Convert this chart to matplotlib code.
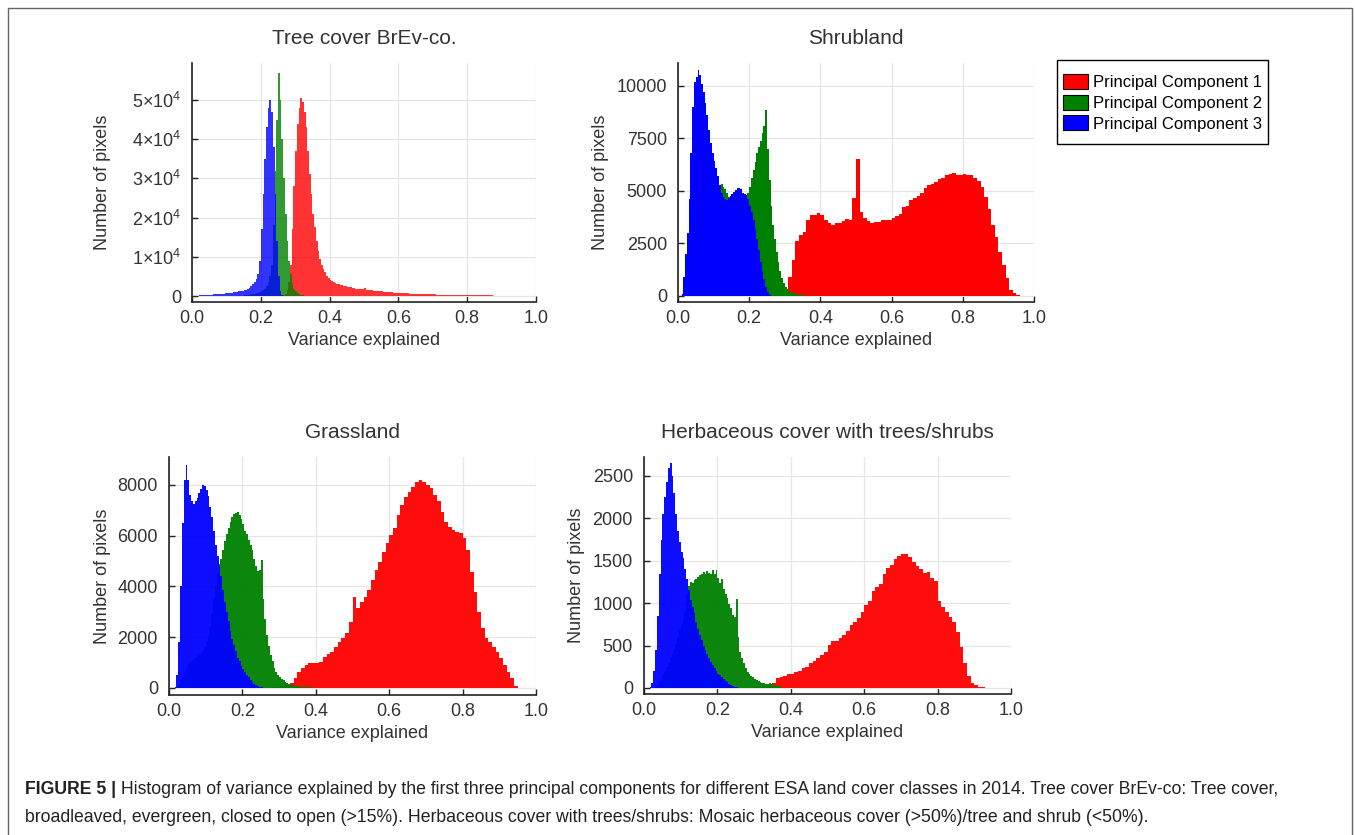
import numpy as np
import matplotlib
matplotlib.use("Agg")
import matplotlib.pyplot as plt
from matplotlib.patches import Patch, Rectangle

plt.rcParams['font.family'] = ['Liberation Sans', 'DejaVu Sans']
plt.rcParams['mathtext.fontset'] = 'custom'
plt.rcParams['mathtext.rm'] = 'Liberation Sans'
plt.rcParams['mathtext.it'] = 'Liberation Sans:italic'

# ---- data: histogram counts ----
FINE = 0.005    # bin width of the narrow histograms
COARSE = 0.01   # bin width of the wide PC1 histograms

# Tree cover BrEv-co.
tree_blue_start = 0.02
tree_blue = [150, 200, 220, 250, 280, 300, 330, 360, 390, 420, 450, 480, 520, 560, 600, 640,
             690, 740, 800, 860, 930, 1000, 1080, 1170, 1270, 1380, 1500, 1650, 1850, 2100,
             2500, 3000, 3500, 4300, 5500, 9000, 17000, 26000, 35000, 43000, 48000, 50000,
             47000, 38000, 26000, 14000, 5000, 1200, 200]
tree_green_start = 0.15
tree_green = [200, 250, 300, 350, 420, 500, 600, 700, 850, 1000, 1200, 1500, 1900, 2500, 3500,
              5000, 8000, 18000, 32000, 45000, 57000, 50000, 40000, 30000, 21000, 14000, 9000,
              5500, 3200, 1900, 1200, 750, 480, 300, 200, 120, 80, 50]
tree_red_start = 0.265
tree_red = [200, 600, 1500, 3500, 8000, 17000, 28000, 37000, 44000, 48000, 50500, 49500, 47000,
            43000, 37000, 31000, 26000, 21000, 17500, 14000, 11500, 9500, 8000, 7000, 6000, 5000,
            4500, 4100, 3800, 3500, 3300, 3100, 2950, 2800, 2700, 2600, 2500, 2400, 2300, 2200,
            2100, 2000, 1900, 1850, 1800, 1750, 1700, 2100,
            1600, 1550, 1500, 1450, 1400, 1350, 1300, 1250, 1200, 1150, 1100, 1060, 1020, 980,
            940, 900, 870, 840, 810, 780,
            750, 725, 700, 675, 650, 625, 600, 580, 560, 540, 520, 500, 485, 470, 455, 440, 425,
            415, 405, 400,
            390, 380, 370, 360, 350, 340, 330, 320, 310, 300, 290, 280, 270, 260, 250, 240, 230,
            220, 210, 200,
            195, 190, 185, 180, 175, 170, 165, 160, 155, 150, 145, 140, 135, 130, 125, 120, 115,
            110, 105, 100,
            95, 90, 85, 80, 75, 70, 65, 60, 55, 50, 45, 40, 35, 30, 25, 20]

# Shrubland
shrub_blue_start = 0.01
shrub_blue = [100, 900, 2000, 3000, 4600, 6800, 9000, 10200, 10450, 10750, 10500, 10100, 9700,
              9200, 8600, 7900, 7300, 6800, 6450, 6100, 5700, 5300, 4900, 4700, 4600, 4550, 4650,
              4750, 4850, 4950, 5050, 5130, 5130, 5100, 4900, 4880, 4800, 4600, 4300, 4000, 3600,
              3200, 2700, 2200, 1600, 1200, 800, 450, 200, 50]
shrub_green_start = 0.03
shrub_green = [100, 300, 600, 1000, 1400, 1800, 2200, 2600, 3000, 3400, 3800, 4100, 4400, 4700,
               4900, 5100, 5250, 5300, 5350, 5200, 5100, 4900, 4700, 4600, 4650, 4700, 4750, 4800,
               4850, 4850, 4850, 4800, 4800, 4900, 5200, 5600, 6000, 6400, 6800, 7100, 7400, 7750,
               8100, 8850, 7000, 5500, 4300, 3400, 2700, 2100, 1600, 1200, 850, 600, 450, 330, 260,
               200, 160, 120, 90, 70, 55, 45, 35, 25, 20, 15]
shrub_red_start = 0.28
shrub_red = [50, 120, 300, 900, 1700, 2600, 2900, 3060, 3620, 3870, 3860, 3970, 3870, 3620, 3490,
             3380, 3460, 3490, 3570, 3650, 3620, 4650, 6500, 4000, 3700, 3560, 3480, 3500, 3540,
             3600, 3620, 3640, 3700, 3800, 3900, 4250, 4300, 4560, 4650, 4760, 4920, 5140, 5300,
             5330, 5440, 5550, 5630, 5760, 5810, 5870, 5760, 5760, 5800, 5780, 5740, 5600, 5460,
             5180, 4700, 4130, 3400, 2830, 2100, 1480, 880, 300, 130, 50]

# Grassland
grass_blue_start = 0.015
grass_blue = [50, 500, 1800, 4000, 6500, 8200, 8800, 8200, 7600, 7350, 7250, 7350, 7500, 7700,
              7850, 7980, 7950, 7800, 7550, 7150, 6750, 6200, 5650, 5200, 4800, 4400, 3850, 3400,
              3000, 2650, 2250, 1950, 1700, 1450, 1200, 1050, 880, 750, 640, 520, 430, 330, 250,
              170, 110, 70, 40, 20]
grass_green_start = 0.02
grass_green = [50, 150, 300, 450, 600, 750, 900, 1000, 1100, 1150, 1200, 1250, 1300, 1380, 1450,
               1600, 1800, 2100, 2400, 2900, 3500, 4000, 4500, 4900, 5100, 5450, 5800, 6050, 6300,
               6550, 6750, 6850, 6900, 6920, 6800, 6650, 6450, 6200, 6050, 5850, 5650, 5450, 5100,
               4800, 4600, 4650, 5050, 3500, 2700, 2100, 1650, 1300, 1050, 800, 640, 520, 420, 360,
               300, 250, 190, 150, 120, 100, 85, 70, 60, 50, 45, 40, 35, 30, 25, 20, 15]
grass_red_start = 0.28
grass_red = [30, 50, 70, 90, 120, 180, 380, 640, 800, 900, 970, 970, 1000, 1040, 1240, 1340, 1430,
             1630, 1800, 1960, 2150, 2600, 3600, 3140, 3400, 3600, 3860, 4260, 4650, 4980, 5370,
             5700, 6030, 6290, 6820, 7210, 7540, 7740, 7940, 8130, 8200, 8110, 8000, 7870, 7610,
             7350, 6950, 6560, 6360, 6230, 6140, 6100, 5900, 5440, 4590, 3800, 3010, 2350, 1960,
             1830, 1630, 1430, 1170, 910, 640, 380, 90]

# Herbaceous cover with trees/shrubs
herb_blue_start = 0.015
herb_blue = [10, 60, 200, 450, 850, 1350, 1750, 2050, 2250, 2430, 2600, 2650, 2500, 2300, 2050,
             1850, 1720, 1600, 1530, 1400, 1280, 1160, 1040, 950, 880, 780, 690, 620, 560, 500,
             450, 400, 350, 310, 270, 240, 200, 170, 150, 125, 105, 85, 70, 50, 40, 25, 15, 8]
herb_green_start = 0.03
herb_green = [20, 40, 80, 110, 150, 200, 250, 300, 350, 400, 450, 520, 600, 680, 750, 830, 900,
              1100, 1200, 1250, 1240, 1270, 1290, 1310, 1330, 1350, 1370, 1340, 1380, 1360, 1340,
              1390, 1350, 1390, 1300, 1240, 1290, 1170, 1110, 1060, 990, 940, 860, 840, 1050, 600,
              420, 350, 290, 230, 190, 165, 145, 125, 110, 95, 85, 75, 60, 55, 45, 50, 55, 45, 40,
              30, 25, 20, 15]
herb_red_start = 0.30
herb_red = [10, 15, 20, 25, 30, 60, 120, 130, 140, 160, 170, 185, 200, 230, 250, 290, 320, 350,
            390, 430, 510, 550, 555, 585, 625, 670, 740, 780, 820, 900, 980, 1020, 1140, 1190,
            1230, 1350, 1420, 1450, 1520, 1560, 1575, 1575, 1550, 1490, 1440, 1400, 1360, 1370,
            1300, 1260, 1030, 950, 900, 840, 780, 660, 480, 300, 140, 60, 30, 15, 8]

titles = ["Tree cover BrEv-co.", "Shrubland", "Grassland", "Herbaceous cover with trees/shrubs"]
legend_labels = ["Principal Component 1", "Principal Component 2", "Principal Component 3"]
x_ticks = [0.0, 0.2, 0.4, 0.6, 0.8, 1.0]
tree_yticks = [0, 10000, 20000, 30000, 40000, 50000]
tree_yticklabels = ["0"] + [r"$%d{\times}10^{4}$" % k for k in range(1, 6)]
shrub_yticks = [0, 2500, 5000, 7500, 10000]
grass_yticks = [0, 2000, 4000, 6000, 8000]
herb_yticks = [0, 500, 1000, 1500, 2000, 2500]

caption_bold = "FIGURE 5 |"
caption_line1 = (" Histogram of variance explained by the first three principal components for "
                 "different ESA land cover classes in 2014. Tree cover BrEv-co: Tree cover,")
caption_line2 = ("broadleaved, evergreen, closed to open (>15%). Herbaceous cover with trees/shrubs: "
                 "Mosaic herbaceous cover (>50%)/tree and shrub (<50%).")

# ---- layout (pixels of a 1355x835 figure) ----
W, H = 1355, 835
fig = plt.figure(figsize=(W / 100, H / 100), dpi=100)


def make_axes(left, right, top, bottom):
    return fig.add_axes([left / W, 1 - bottom / H, (right - left) / W, (bottom - top) / H])


def draw_hist(ax, series, alpha):
    for start, width, counts, color in series:
        edges = start + width * np.arange(len(counts) + 1)
        ax.stairs(counts, edges, fill=True, color=color, alpha=alpha, lw=0)


def style(ax, title, yticks, ylim, ylab_x, yticklabels=None):
    ax.set_xlim(0, 1)
    ax.set_ylim(*ylim)
    ax.set_xticks(x_ticks)
    ax.set_xticklabels(["%.1f" % v for v in x_ticks])
    ax.set_yticks(yticks)
    if yticklabels is not None:
        ax.set_yticklabels(yticklabels)
    ax.grid(True, color="#e6e6e6", lw=0.9)
    ax.set_axisbelow(True)
    for s in ["top", "right"]:
        ax.spines[s].set_visible(False)
    for s in ["left", "bottom"]:
        ax.spines[s].set_color("#222222")
        ax.spines[s].set_linewidth(1.2)
    ax.tick_params(direction="in", length=4, width=1, color="#222222",
                   labelsize=13, labelcolor="#333333")
    ax.tick_params(axis="x", pad=6)
    ax.tick_params(axis="y", pad=8)
    ax.set_title(title, fontsize=15, color="#333333", pad=14)
    ax.set_xlabel("Variance explained", fontsize=13, color="#333333")
    ax.set_ylabel("Number of pixels", fontsize=13, color="#333333")
    ax.xaxis.set_label_coords(0.5, -0.125)
    ax.yaxis.set_label_coords(ylab_x, 0.5)


RED, GREEN, BLUE = "#ff0000", "#008000", "#0000ff"

ax1 = make_axes(192, 536, 63, 302)
draw_hist(ax1, [(tree_red_start, FINE, tree_red, RED),
                (tree_green_start, FINE, tree_green, GREEN),
                (tree_blue_start, FINE, tree_blue, BLUE)], alpha=0.8)
style(ax1, titles[0], tree_yticks, (-1530, 59440), -0.235, tree_yticklabels)

ax2 = make_axes(678, 1034, 63, 302)
draw_hist(ax2, [(shrub_red_start, COARSE, shrub_red, RED),
                (shrub_green_start, FINE, shrub_green, GREEN),
                (shrub_blue_start, FINE, shrub_blue, BLUE)], alpha=1.0)
style(ax2, titles[1], shrub_yticks, (-286, 11095), -0.194)

ax3 = make_axes(169, 536, 457, 695)
draw_hist(ax3, [(grass_red_start, COARSE, grass_red, RED),
                (grass_green_start, FINE, grass_green, GREEN),
                (grass_blue_start, FINE, grass_blue, BLUE)], alpha=0.95)
style(ax3, titles[2], grass_yticks, (-276, 9103), -0.158)

ax4 = make_axes(644, 1011, 457, 694)
draw_hist(ax4, [(herb_red_start, COARSE, herb_red, RED),
                (herb_green_start, FINE, herb_green, GREEN),
                (herb_blue_start, FINE, herb_blue, BLUE)], alpha=0.95)
style(ax4, titles[3], herb_yticks, (-71, 2724), -0.16)

# legend entries without frame; the box is drawn separately to get its padding
handles = [Patch(facecolor=c, edgecolor="black", lw=0.8, label=l)
           for c, l in zip([RED, GREEN, BLUE], legend_labels)]
leg = fig.legend(handles=handles, loc="upper left", bbox_to_anchor=(1057 / W, 1 - 68 / H),
                 fontsize=12, frameon=False, handlelength=1.5, handleheight=1.0,
                 handletextpad=0.3, labelspacing=0.28, borderpad=0.35, borderaxespad=0)
fig.add_artist(Rectangle((1057 / W, 1 - 144 / H), (1268 - 1057) / W, (144 - 60) / H,
                         transform=fig.transFigure, fill=False, edgecolor="black", lw=1))

# frame around the figure panel
fig.add_artist(Rectangle((8 / W, -0.05), (1352 - 8) / W, 1.05 - 8 / H, transform=fig.transFigure,
                         fill=False, edgecolor="#666666", lw=1))

# caption
t_bold = fig.text(25 / W, 1 - 790 / H, caption_bold, fontsize=12.7, fontweight="bold",
                  color="#222222", va="center")
fig.canvas.draw()
bb = t_bold.get_window_extent(renderer=fig.canvas.get_renderer())
fig.text(bb.x1 / W, 1 - 790 / H, caption_line1, fontsize=12.7, color="#222222", va="center")
fig.text(25 / W, 1 - 817 / H, caption_line2, fontsize=12.7, color="#222222", va="center")

fig.savefig("out.png", dpi=100)
